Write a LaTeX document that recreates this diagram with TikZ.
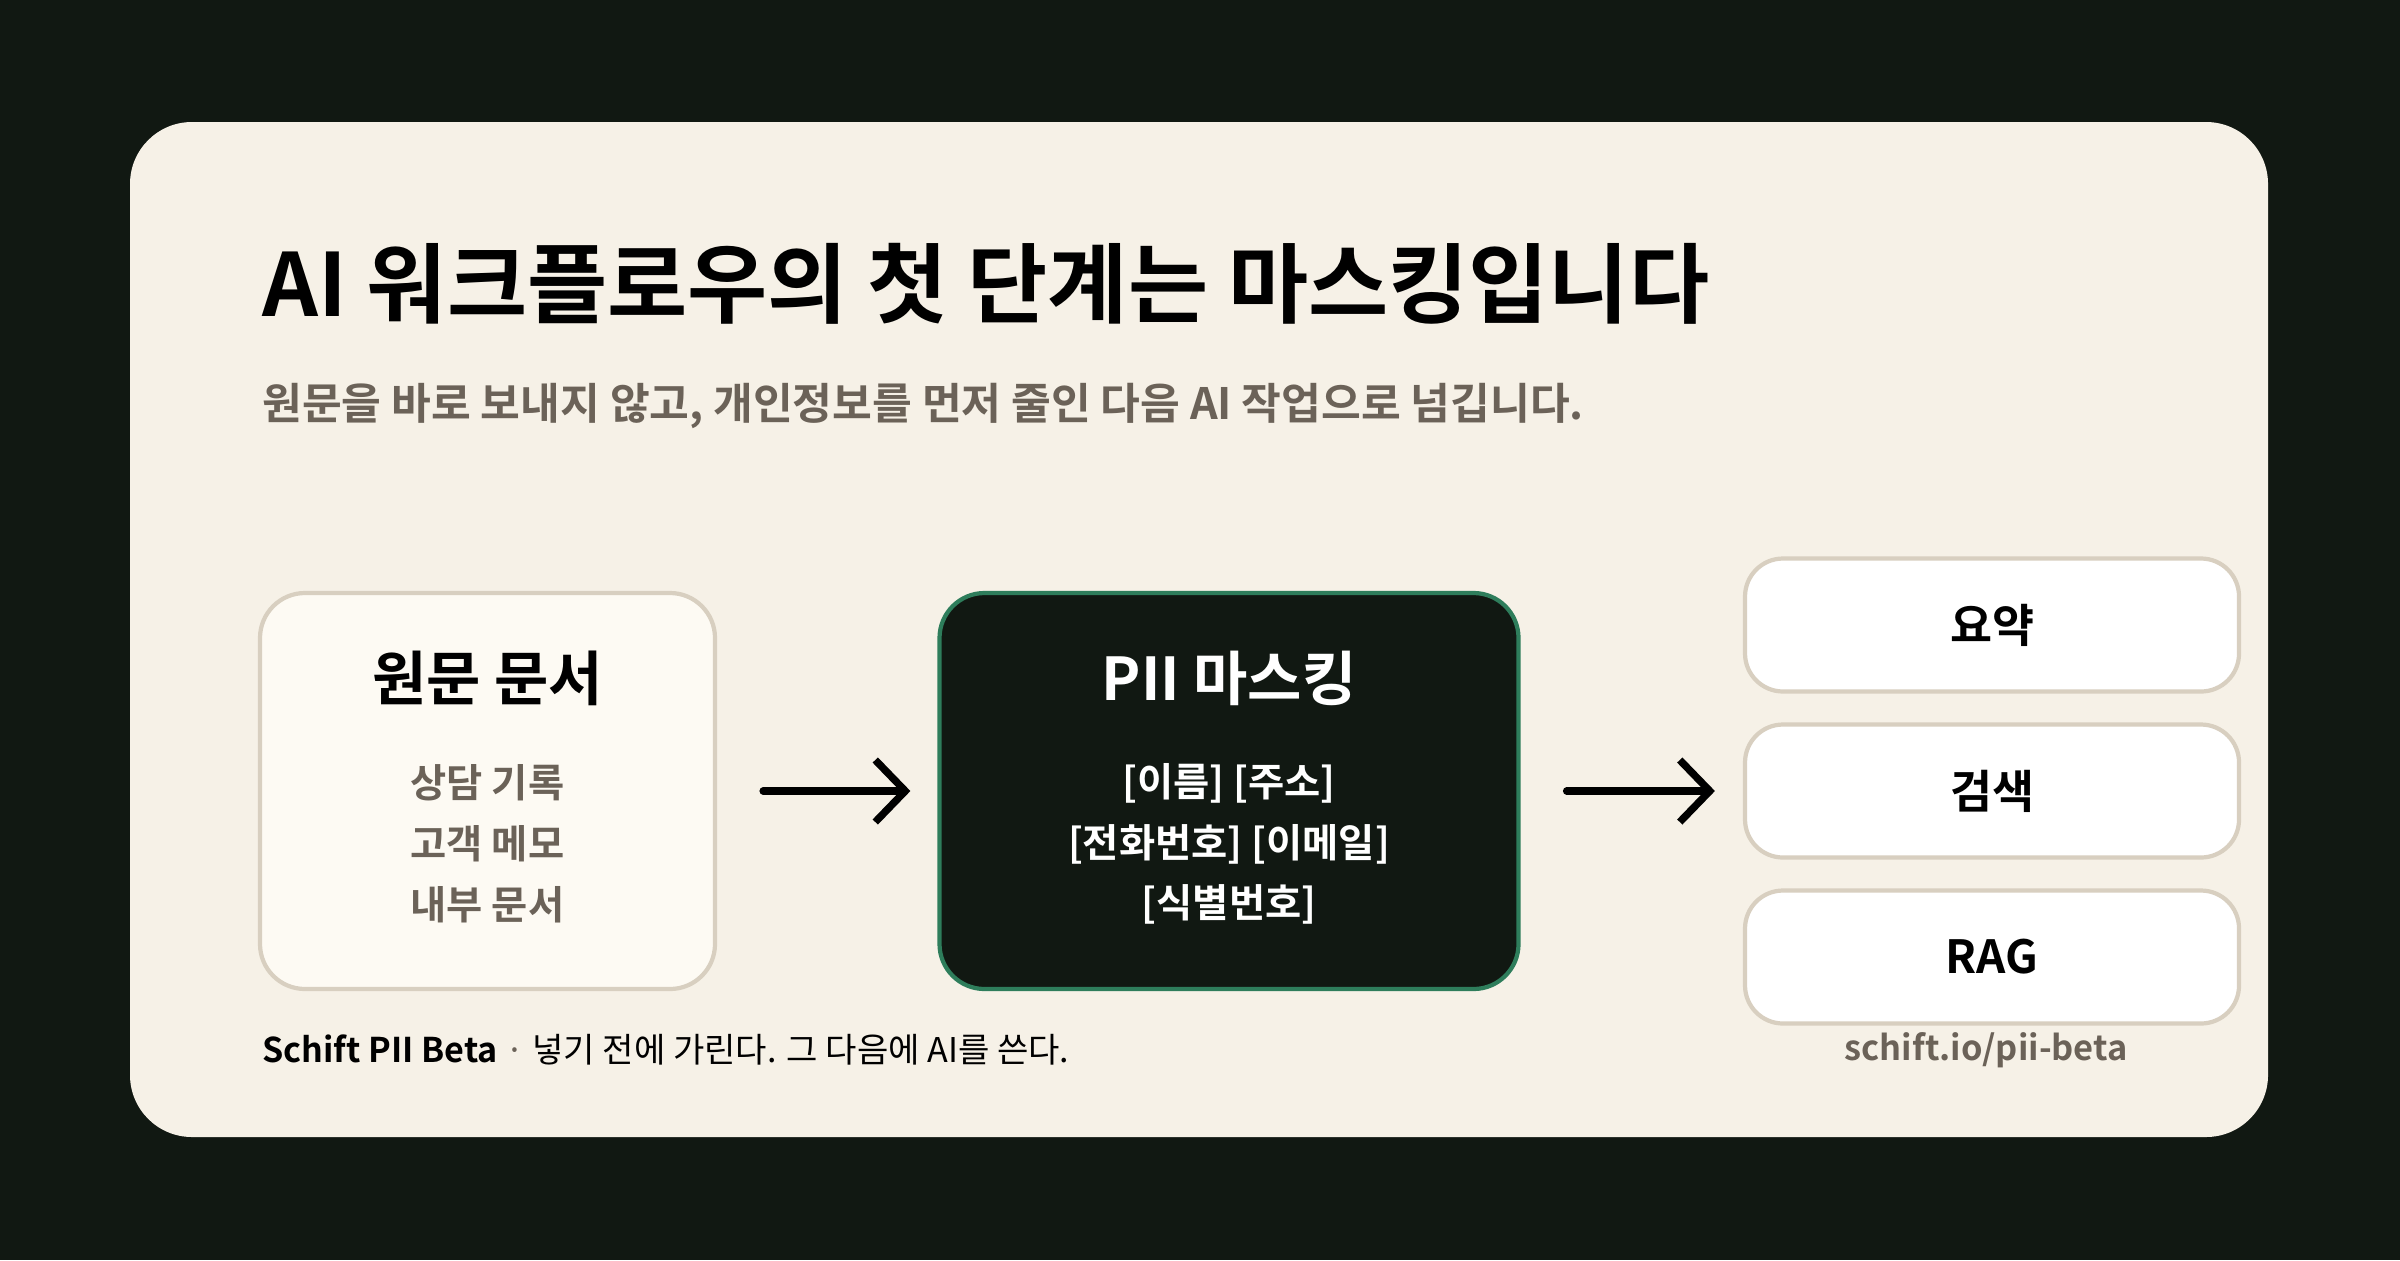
\documentclass[tikz,border=0pt]{standalone}
\usepackage{fontspec}
\setmainfont{Noto Sans CJK KR}[BoldFont={Noto Sans CJK KR Bold}]
\usetikzlibrary{positioning,arrows.meta}
\definecolor{bgdark}{HTML}{111812}
\definecolor{cream}{HTML}{F6F1E7}
\definecolor{paper}{HTML}{FDFAF3}
\definecolor{edge}{HTML}{D8CFC0}
\definecolor{muted}{HTML}{6B6258}
\definecolor{mint}{HTML}{2E7D5B}
\tikzset{
  card/.style={rounded corners=0.45cm, draw=edge, line width=1.2pt, minimum height=3.96cm},
  task/.style={rounded corners=0.38cm, draw=edge, fill=white, line width=1.2pt,
    minimum width=4.94cm, minimum height=1.33cm, font=\bfseries\fontsize{13}{15}\selectfont},
  boxtitle/.style={font=\bfseries\fontsize{16.8}{19}\selectfont},
  boxitems/.style={font=\bfseries\fontsize{11.2}{17.3}\selectfont, align=center},
  flow/.style={line width=2.1pt, line cap=round, -{Straight Barb[length=0.3cm,width=0.62cm,line width=2.1pt]}}
}
\begin{document}
\begin{tikzpicture}
  \useasboundingbox (0,0) rectangle (24,12.6);
  % background and card
  \fill[bgdark] (0,0) rectangle (24,12.6);
  \fill[cream, rounded corners=0.62cm] (1.30,1.23) rectangle (22.68,11.38);

  % heading
  \node[anchor=west, font=\bfseries\fontsize{24.8}{28}\selectfont] (title) at (2.50,9.76) {AI 워크플로우의 첫 단계는 마스킹입니다};
  \node[anchor=west, text=muted, font=\bfseries\fontsize{12.3}{14}\selectfont] (sub) at (2.50,8.54) {원문을 바로 보내지 않고, 개인정보를 먼저 줄인 다음 AI 작업으로 넘깁니다.};

  % boxes
  \node[card, fill=paper, minimum width=4.55cm] (src) at (4.875,4.69) {};
  \node[boxtitle] (srctitle) at (4.875,5.82) {원문 문서};
  \node[boxitems, text=muted] (srcitems) at (4.875,4.16) {상담 기록\\고객 메모\\내부 문서};

  \node[card, fill=bgdark, draw=mint, minimum width=5.79cm] (mask) at (12.29,4.69) {};
  \node[boxtitle, text=white] (masktitle) at (12.29,5.82) {PII 마스킹};
  \node[boxitems, text=white] (maskitems) at (12.29,4.16) {{[이름] [주소]}\\{}{[전화번호] [이메일]}\\{}{[식별번호]}};

  \node[task] (sum) at (19.92,6.35) {요약};
  \node[task] (search) at (19.92,4.69) {검색};
  \node[task] (rag) at (19.92,3.03) {RAG};

  % arrows
  \draw[flow, shorten <=0.46cm, shorten >=0.27cm] (src.east) -- (mask.west);
  \draw[flow, shorten <=0.46cm, shorten >=0.28cm] (mask.east) -- (search.west);

  % footer
  \node[anchor=west, font=\fontsize{9.7}{12}\selectfont] (foot) at (2.50,2.10) {\textbf{Schift PII Beta} {\color{muted}·} 넣기 전에 가린다. 그 다음에 AI를 쓴다.};
  \node[anchor=east, text=muted, font=\bfseries\fontsize{9.8}{12}\selectfont] (url) at (21.40,2.10) {schift.io/pii-beta};
\end{tikzpicture}
\end{document}
